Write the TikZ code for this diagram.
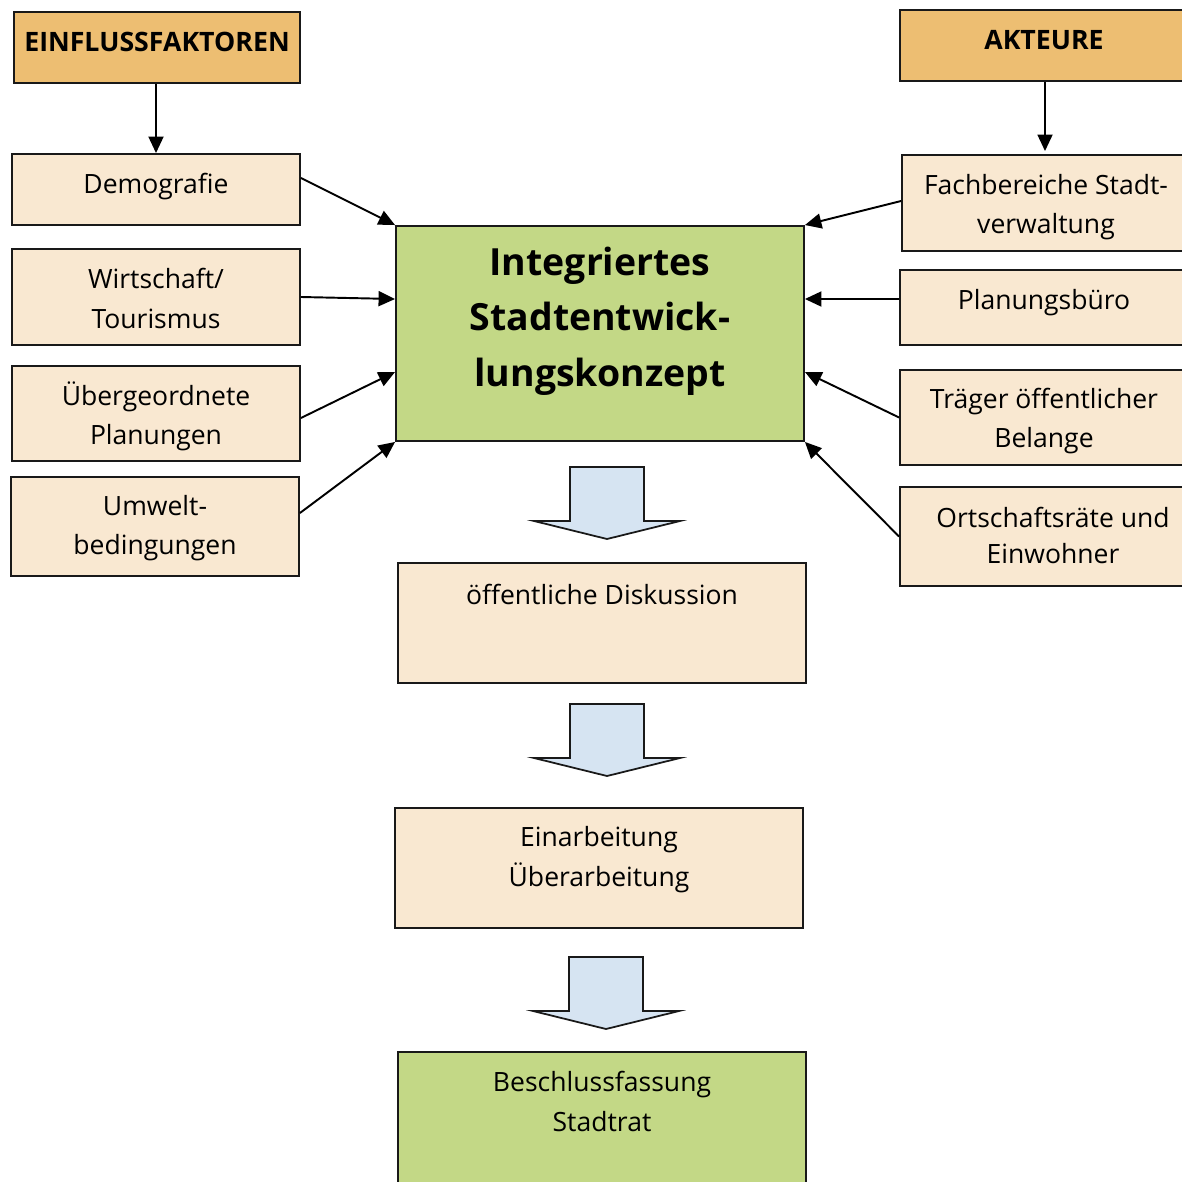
\documentclass[tikz,border=0pt]{standalone}
\usepackage{fontspec}
\setmainfont{Open Sans}
\usetikzlibrary{arrows.meta,positioning}
\definecolor{hdrorange}{RGB}{237,190,114}
\definecolor{boxcream}{RGB}{249,232,209}
\definecolor{boxgreen}{RGB}{195,216,134}
\definecolor{arrblue}{RGB}{214,228,242}
\definecolor{edge}{RGB}{25,25,25}
\tikzset{
  hdr/.style={draw=edge, fill=hdrorange, line width=1.1pt, inner sep=0pt},
  cbox/.style={draw=edge, fill=boxcream, line width=1.1pt, inner sep=0pt},
  gbox/.style={draw=edge, fill=boxgreen, line width=1.1pt, inner sep=0pt},
  txt/.style={align=center, inner sep=0pt, font=\fontsize{15.1}{22.4}\selectfont},
  htxt/.style={inner sep=0pt, font=\fontsize{15.2}{18}\selectfont\bfseries},
  ttxt/.style={align=center, inner sep=0pt, font=\fontsize{21.3}{31.5}\selectfont\bfseries},
  link/.style={-{Triangle[length=3.3mm, width=3mm]}, line width=1.1pt},
  bigarr/.style={draw=edge, fill=arrblue, line width=1pt},
}
\newcommand{\downarr}[2]{%
  \draw[bigarr] (#1-37,#2) -- (#1+37,#2) -- (#1+37,#2+54) -- (#1+73,#2+54)
    -- (#1,#2+72) -- (#1-73,#2+54) -- (#1-37,#2+54) -- cycle;}

\begin{document}
\begin{tikzpicture}[x=0.02cm, y=-0.02cm]
  \useasboundingbox (0,0) rectangle (1181,1182);
  % headers
  \node[hdr, minimum width=5.72cm, minimum height=1.42cm] (ein) at (157,47.5) {};
  \node[htxt] (ein-t) at (157,42) {EINFLUSSFAKTOREN};
  \node[hdr, minimum width=5.76cm, minimum height=1.42cm] (akt) at (1044,45.5) {};
  \node[htxt] (akt-t) at (1044,40) {AKTEURE};
  % left column
  \node[cbox, minimum width=5.76cm, minimum height=1.42cm] (dem) at (156,189.5) {};
  \node[txt] (dem-t) at (156,187) {Demografie};
  \node[cbox, minimum width=5.76cm, minimum height=1.92cm] (wir) at (156,297) {};
  \node[txt] (wir-t) at (156,298.5) {Wirtschaft/\\Tourismus};
  \node[cbox, minimum width=5.76cm, minimum height=1.90cm] (ueb) at (156,413.5) {};
  \node[txt] (ueb-t) at (156,416.5) {Übergeordnete\\Planungen};
  \node[cbox, minimum width=5.76cm, minimum height=1.98cm] (umw) at (155,526.5) {};
  \node[txt] (umw-t) at (155,528) {Umwelt-\\bedingungen};
  % centre
  \node[gbox, minimum width=8.16cm, minimum height=4.30cm] (isek) at (600,333.5) {};
  \node[ttxt] (isek-t) at (600,321) {Integriertes\\Stadtentwick-\\lungskonzept};
  % right column
  \node[cbox, minimum width=5.72cm, minimum height=1.92cm] (fach) at (1045,203) {};
  \node[txt] (fach-t) at (1046,207) {Fachbereiche Stadt-\\verwaltung};
  \node[cbox, minimum width=5.76cm, minimum height=1.50cm] (plan) at (1044,307.5) {};
  \node[txt] (plan-t) at (1044,303) {Planungsbüro};
  \node[cbox, minimum width=5.76cm, minimum height=1.90cm] (trae) at (1044,417.5) {};
  \node[txt] (trae-t) at (1044,421) {Träger öffentlicher\\Belange};
  \node[cbox, minimum width=5.76cm, minimum height=1.98cm] (orts) at (1044,536.5) {};
  \node[txt, font=\fontsize{15.1}{20.6}\selectfont] (orts-t) at (1053,535.5) {Ortschaftsräte und\\Einwohner};
  % process
  \node[cbox, minimum width=8.16cm, minimum height=2.40cm] (disk) at (602,623) {};
  \node[txt] (disk-t) at (602,594.5) {öffentliche Diskussion};
  \node[cbox, minimum width=8.16cm, minimum height=2.40cm] (arb) at (599,868) {};
  \node[txt] (arb-t) at (599,859.5) {Einarbeitung\\Überarbeitung};
  \node[gbox, minimum width=8.16cm, minimum height=2.76cm] (rat) at (602,1121) {};
  \node[txt] (rat-t) at (602,1101.5) {Beschlussfassung\\Stadtrat};
  % connectors
  \draw[link] (ein.south -| dem.north) -- (dem.north);
  \draw[link] (akt.south -| fach.north) -- ([yshift=0.06cm]fach.north);
  \draw[link] ([yshift=0.23cm]dem.east) -- (isek.north west);
  \draw[link] (wir.east) -- ([yshift=0.69cm]isek.west);
  \draw[link] ([yshift=-0.09cm]ueb.east) -- ([yshift=-0.77cm]isek.west);
  \draw[link] ([yshift=0.27cm]umw.east) -- (isek.south west);
  \draw[link] ([yshift=0.04cm]fach.west) -- (isek.north east);
  \draw[link] ([yshift=0.17cm]plan.west) -- ([yshift=0.69cm]isek.east);
  \draw[link] (trae.west) -- ([yshift=-0.77cm]isek.east);
  \draw[link] (orts.west) -- (isek.south east);
  \downarr{607}{467}
  \downarr{607}{704}
  \downarr{606}{957}
\end{tikzpicture}
\end{document}
